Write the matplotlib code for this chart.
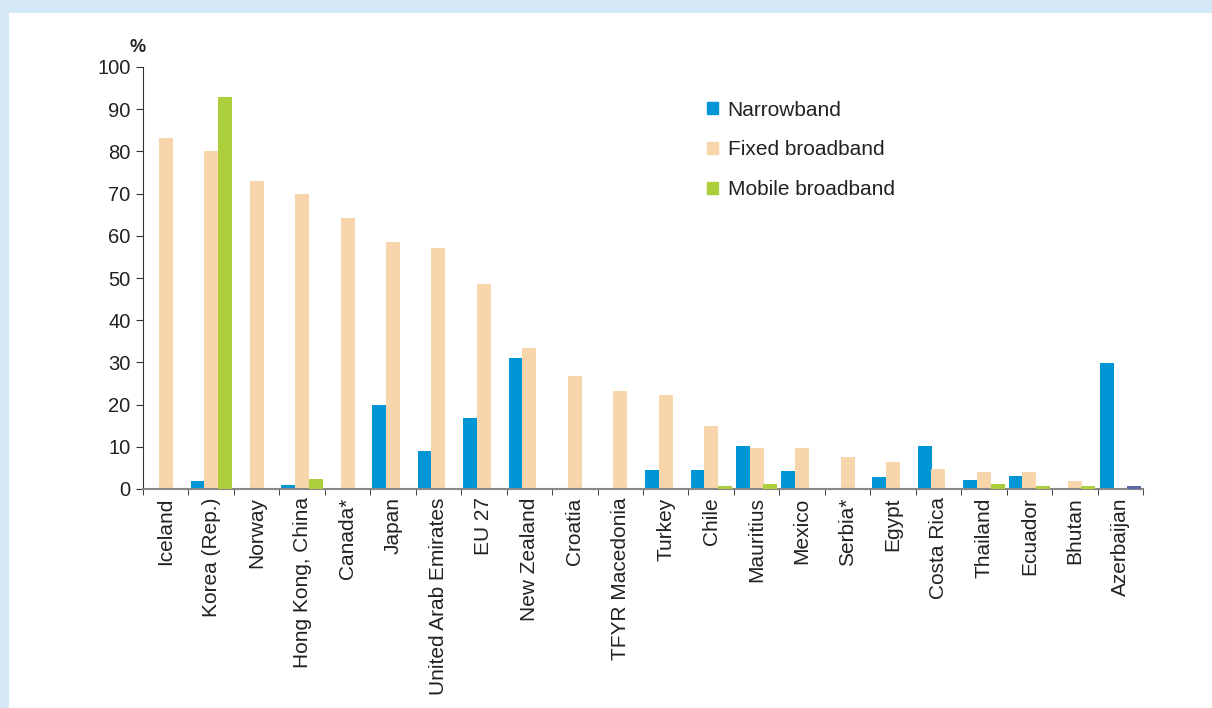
import numpy as np
import matplotlib
matplotlib.use('Agg')
import matplotlib.pyplot as plt
from matplotlib.patches import Rectangle

plt.rcParams['font.family'] = ['Liberation Sans', 'DejaVu Sans']

# ── data ────────────────────────────────────────────────────────────────
countries = ['Iceland', 'Korea (Rep.)', 'Norway', 'Hong Kong, China', 'Canada*',
             'Japan', 'United Arab Emirates', 'EU 27', 'New Zealand', 'Croatia',
             'TFYR Macedonia', 'Turkey', 'Chile', 'Mauritius', 'Mexico', 'Serbia*',
             'Egypt', 'Costa Rica', 'Thailand', 'Ecuador', 'Bhutan', 'Azerbaijan']
narrowband = [0, 1.8, 0, 1.0, 0, 19.8, 9.1, 16.8, 31.0, 0, 0, 4.5, 4.5, 10.3,
              4.2, 0, 2.8, 10.3, 2.2, 3.1, 0, 29.8]
fixed_bb = [83.2, 80.0, 73.0, 70.0, 64.3, 58.5, 57.0, 48.5, 33.5, 26.8, 23.2,
            22.3, 15.0, 9.8, 9.8, 7.6, 6.4, 4.8, 4.0, 4.0, 1.8, 0]
mobile_bb = [0, 93.0, 0, 2.3, 0, 0, 0, 0, 0, 0, 0, 0, 0.6, 1.3, 0, 0, 0, 0,
             1.1, 0.6, 0.6, 0.6]

C_NARROW = '#0096d6'
C_FIXED = '#f8d5aa'
C_MOBILE = '#acce3a'
C_AZ = '#5d6aa8'  # Azerbaijan's third bar is drawn in slate blue

fig = plt.figure(figsize=(12.12, 7.08), dpi=100)
fig.patch.set_facecolor('#d5e8f6')
fig.add_artist(Rectangle((9 / 1212, 0), 1, 1 - 13 / 708, transform=fig.transFigure,
                         facecolor='white', edgecolor='none', zorder=0))

ax = fig.add_axes([143 / 1212, (708 - 489) / 708, 1000 / 1212, 422 / 708])
ax.set_facecolor('none')

x = np.arange(len(countries))
w = 0.31
ax.bar(x - 0.3, narrowband, w, color=C_NARROW, label='Narrowband', zorder=2)
ax.bar(x, fixed_bb, w, color=C_FIXED, label='Fixed broadband', zorder=2)
mob_colors = [C_MOBILE] * (len(countries) - 1) + [C_AZ]
ax.bar(x + 0.3, mobile_bb, w, color=mob_colors, label='Mobile broadband', zorder=3)

ax.set_xlim(-0.5, len(countries) - 0.5)
ax.set_ylim(0, 100)
ax.set_yticks(range(0, 101, 10))
ax.tick_params(axis='y', labelsize=14.5, length=5, color='#333333', direction='out',
               pad=4, labelcolor='#222222')
ax.set_xticks(x)
ax.set_xticklabels(countries, rotation=90, fontsize=15, color='#222222')
ax.tick_params(axis='x', length=0, pad=6)
ax.set_xticks(np.arange(-0.5, len(countries)), minor=True)
ax.tick_params(axis='x', which='minor', length=4, color='#222222', direction='out')

for s in ['top', 'right']:
    ax.spines[s].set_visible(False)
ax.spines['left'].set_color('#333333')
ax.spines['bottom'].set_color('#888888')
ax.spines['bottom'].set_linewidth(1.5)

ax.text(-0.45, 102.5, '%', fontsize=13, fontweight='bold', ha='right', va='bottom',
        color='#222222')

leg = ax.legend(loc='upper left', bbox_to_anchor=(0.545, 0.965), frameon=False,
                fontsize=15, handlelength=0.55, handleheight=0.55, labelspacing=1.0,
                handletextpad=0.45)
for h in leg.legend_handles:
    h.set_color(h.get_facecolor())
for t in leg.get_texts():
    t.set_color('#222222')

fig.savefig('out.png', dpi=100, facecolor=fig.get_facecolor())
